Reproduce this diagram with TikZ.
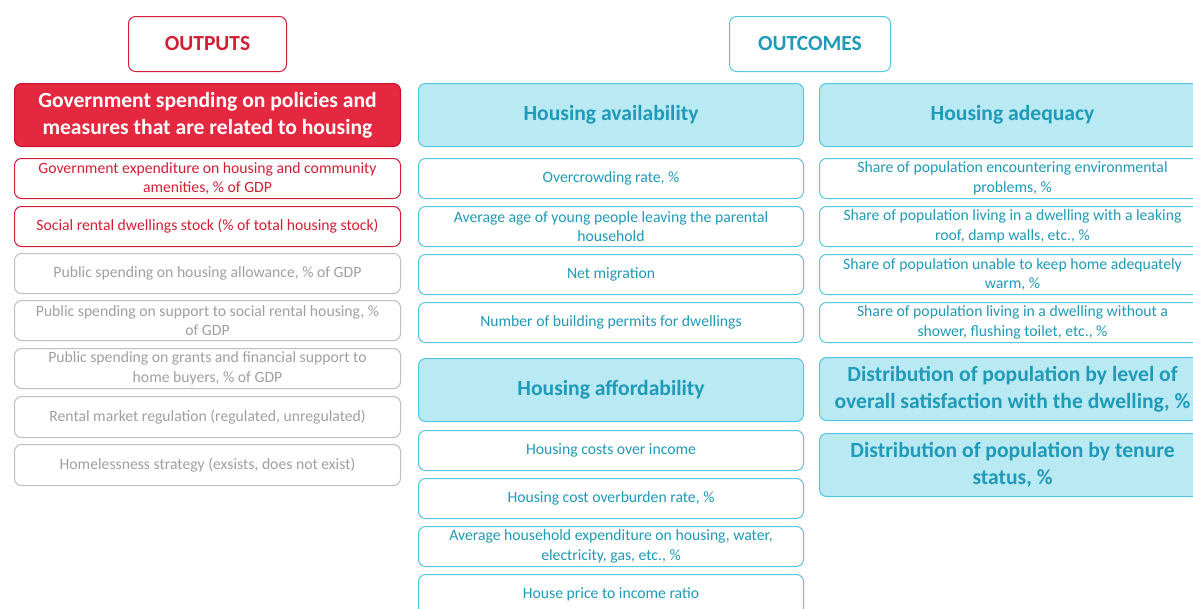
\documentclass[tikz,border=0pt]{standalone}
\usepackage{fontspec}
\setmainfont{Carlito}
\definecolor{redA}{HTML}{E4283F}
\definecolor{redB}{HTML}{C8102E}
\definecolor{redT}{HTML}{D21F34}
\definecolor{cyF}{HTML}{B9E9F2}
\definecolor{cyB}{HTML}{55C6DF}
\definecolor{cyT}{HTML}{1F9AB8}
\definecolor{grT}{HTML}{A0A0A0}
\definecolor{grB}{HTML}{BFBFBF}
\tikzset{
  bx/.style={rounded corners=7pt, line width=1pt, align=center, inner sep=0pt, anchor=north west, fill=white},
  sm/.style={bx, minimum height=40pt, font=\fontsize{15.7}{19.5}\selectfont},
  bg/.style={bx, minimum height=63pt, font=\fontsize{21.6}{26.5}\selectfont\bfseries},
  cL/.style={minimum width=386pt},
  cM/.style={minimum width=385pt},
  cR/.style={minimum width=386pt},
  redsm/.style={sm, draw=redT, text=redT},
  graysm/.style={sm, draw=grB, text=grT},
  cysm/.style={sm, draw=cyB, text=cyT},
  cybg/.style={bg, draw=cyB, fill=cyF, text=cyT},
  head/.style={bx, minimum width=158pt, minimum height=55pt, font=\fontsize{21.5}{24}\selectfont\bfseries}
}
\begin{document}
\begin{tikzpicture}[x=1pt,y=-1pt]
\useasboundingbox (0,0) rectangle (1193,608);
\clip (0,0) rectangle (1193,608);
% headers
\node[head, draw=redT, text=redT] (hout) at (128,16) {OUTPUTS};
\node[head, draw=cyB, text=cyT, minimum width=161pt] (hoc) at (729,16) {OUTCOMES};
% left column
\node[bg, cL, draw=redB, fill=redA, text=white] (L0) at (14,83) {Government spending on policies and\\measures that are related to housing};
\node[redsm, cL] (L1) at (14,158) {Government expenditure on housing and community\\amenities, \% of GDP};
\node[redsm, cL] (L2) at (14,206) {Social rental dwellings stock (\% of total housing stock)};
\node[graysm, cL] (L3) at (14,253) {Public spending on housing allowance, \% of GDP};
\node[graysm, cL] (L4) at (14,300) {Public spending on support to social rental housing, \%\\of GDP};
\node[graysm, cL] (L5) at (14,348) {Public spending on grants and financial support to\\home buyers, \% of GDP};
\node[graysm, cL, minimum height=41pt] (L6) at (14,396) {Rental market regulation (regulated, unregulated)};
\node[graysm, cL, minimum height=41pt] (L7) at (14,444) {Homelessness strategy (exsists, does not exist)};
% middle column
\node[cybg, cM] (M0) at (418,83) {Housing availability};
\node[cysm, cM] (M1) at (418,158) {Overcrowding rate, \%};
\node[cysm, cM] (M2) at (418,206) {Average age of young people leaving the parental\\household};
\node[cysm, cM] (M3) at (418,254) {Net migration};
\node[cysm, cM] (M4) at (418,302) {Number of building permits for dwellings};
\node[cybg, cM] (M5) at (418,358) {Housing affordability};
\node[cysm, cM] (M6) at (418,430) {Housing costs over income};
\node[cysm, cM] (M7) at (418,478) {Housing cost overburden rate, \%};
\node[cysm, cM] (M8) at (418,526) {Average household expenditure on housing, water,\\electricity, gas, etc., \%};
\node[cysm, cM] (M9) at (418,574) {House price to income ratio};
% right column
\node[cybg, cR] (R0) at (819,83) {Housing adequacy};
\node[cysm, cR] (R1) at (819,158) {Share of population encountering environmental\\problems, \%};
\node[cysm, cR] (R2) at (819,206) {Share of population living in a dwelling with a leaking\\roof, damp walls, etc., \%};
\node[cysm, cR] (R3) at (819,254) {Share of population unable to keep home adequately\\warm, \%};
\node[cysm, cR] (R4) at (819,302) {Share of population living in a dwelling without a\\shower, flushing toilet, etc., \%};
\node[cybg, cR] (R5) at (819,357) {Distribution of population by level of\\overall satisfaction with the dwelling, \%};
\node[cybg, cR] (R6) at (819,433) {Distribution of population by tenure\\status, \%};
\end{tikzpicture}
\end{document}
